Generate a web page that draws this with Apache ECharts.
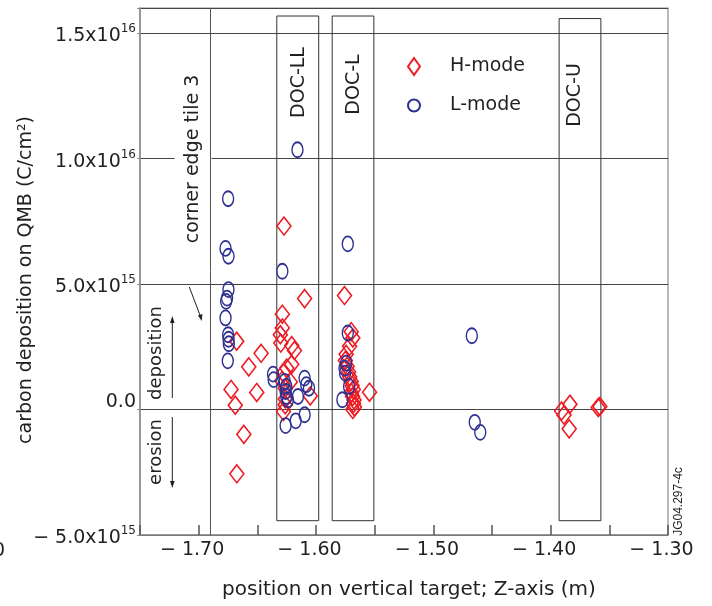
<!DOCTYPE html>
<html>
<head>
<meta charset="utf-8">
<script src="https://cdn.jsdelivr.net/npm/echarts@6/dist/echarts.min.js"></script>
<style>
  html, body { margin: 0; padding: 0; background: #fff; }
  #chart { width: 712px; height: 606px; }
</style>
</head>
<body>
<div id="chart"></div>
<script>
  // H-mode points: Z position (m) and carbon deposition (x1e15 C/cm2)
  var hModeZ = [
    -1.6676, -1.6468, -1.6573, -1.6724, -1.6505, -1.6688, -1.6615, -1.6675,
    -1.6273, -1.6097, -1.6287, -1.6287, -1.6304, -1.6300, -1.6207, -1.6184, -1.6207,
    -1.6249, -1.6277, -1.6291, -1.6219, -1.6262, -1.6049, -1.6263, -1.6277, -1.6262,
    -1.5757, -1.5700, -1.5686, -1.5714, -1.5743, -1.5750, -1.5735, -1.5722, -1.5712,
    -1.5700, -1.5692, -1.5682, -1.5698, -1.5688, -1.5676, -1.5680, -1.5672, -1.5686, -1.5544,
    -1.3907, -1.3887, -1.3836, -1.3842, -1.3595, -1.3581
  ]
  var hModeC = [
    2.72, 2.24, 1.70, 0.80, 0.68, 0.17, -0.99, -2.56,
    7.31, 4.42, 3.80, 3.25, 2.98, 2.65, 2.55, 2.35, 1.80,
    1.65, 1.45, 1.15, 1.10, 0.85, 0.54, 0.19, -0.08, 0.42,
    4.54, 3.10, 2.85, 2.52, 2.20, 1.95, 1.72, 1.50, 1.30,
    1.12, 0.95, 0.80, 0.66, 0.52, 0.38, 0.24, 0.10, 0.00, 0.69,
    -0.06, -0.22, 0.21, -0.77, 0.08, 0.12
  ]
  // L-mode points
  var lModeZ = [
    -1.6749, -1.6771, -1.6746, -1.6746, -1.6758, -1.6766, -1.6771, -1.6749, -1.6745, -1.6743, -1.6752,
    -1.6158, -1.6287, -1.6366, -1.6361, -1.6267, -1.6253, -1.6259, -1.6253, -1.6239, -1.6154,
    -1.6097, -1.6083, -1.6060, -1.6097, -1.6173, -1.6259,
    -1.5729, -1.5729, -1.5743, -1.5757, -1.5752, -1.5718, -1.5775,
    -1.4672, -1.4647, -1.4600
  ]
  var lModeC = [
    8.40, 6.42, 6.11, 4.78, 4.44, 4.31, 3.65, 2.98, 2.80, 2.62, 1.94,
    10.35, 5.51, 1.41, 1.19, 1.12, 0.92, 0.72, 0.52, 0.39, 0.52,
    1.25, 0.99, 0.85, -0.21, -0.45, -0.64,
    6.60, 3.05, 1.85, 1.65, 1.45, 0.92, 0.39,
    2.94, -0.51, -0.91
  ]
  var UNIT = 1e15

  // divertor regions drawn as boxes: [left Z, right Z, top (x1e15)]
  var docNames = ['DOC-LL', 'DOC-L', 'DOC-U']
  var docLeft = [-1.6334, -1.5862, -1.3928]
  var docRight = [-1.5977, -1.5507, -1.3572]
  var docTop = [15.68, 15.68, 15.58]
  var docBottom = -4.43
  var cornerEdgeZ = -1.6927

  // tick labels
  var xTickValues = [-1.70, -1.60, -1.50, -1.40, -1.30]
  var xTickLabels = ['\u2212 1.70', '\u2212 1.60', '\u2212 1.50', '\u2212 1.40', '\u2212 1.30']
  var yTickValues = [-5e15, 0, 5e15, 1e16, 1.5e16]
  var yTickMantissa = ['\u2212 5.0x10', '0.0', '5.0x10', '1.0x10', '1.5x10']
  var yTickExponent = ['15', '', '15', '16', '16']

  var FONT = 'DejaVu Sans'
  var TXT = '#231f20'
  var RED = '#ed1c24'
  var BLUE = '#2e3192'

  function toPoints (zs, cs) {
    var out = []
    for (var i = 0; i < zs.length; i++) {
      out.push([zs[i], cs[i] * UNIT])
    }
    return out
  }

  var docAreas = []
  for (var i = 0; i < docNames.length; i++) {
    docAreas.push([
      { name: docNames[i], coord: [docLeft[i], docTop[i] * UNIT] },
      { coord: [docRight[i], docBottom * UNIT] }
    ])
  }

  var chart = echarts.init(document.getElementById('chart'))

  var option = {
    animation: false,
    backgroundColor: '#fff',
    textStyle: { fontFamily: FONT, color: TXT },
    grid: {
      left: 140, right: 44, top: 8, bottom: 71,
      show: true, borderColor: '#8c8c8c', borderWidth: 1.2
    },
    legend: {
      data: ['H-mode', 'L-mode'],
      orient: 'vertical',
      left: 402, top: 52,
      itemWidth: 12, itemHeight: 17, itemGap: 20,
      symbolKeepAspect: false,
      selectedMode: false,
      textStyle: { fontFamily: FONT, fontSize: 19, color: TXT, padding: [4, 0, 0, 25] }
    },
    xAxis: {
      type: 'value',
      min: -1.75, max: -1.30, interval: 0.05,
      name: 'position on vertical target; Z-axis (m)',
      nameLocation: 'middle', nameGap: 45, nameMoveOverlap: false,
      nameTextStyle: { fontFamily: FONT, fontSize: 20, color: TXT, padding: [0, 0, 0, 10] },
      axisLine: { onZero: false, lineStyle: { color: '#8c8c8c', width: 1.5 } },
      axisTick: { show: true, inside: true, length: 10, lineStyle: { color: '#555', width: 1.5 } },
      splitLine: { show: false },
      axisLabel: {
        margin: 6, fontFamily: FONT, fontSize: 19, color: TXT, padding: [0, 13, 0, 0],
        formatter: function (v) {
          for (var i = 0; i < xTickValues.length; i++) {
            if (Math.round(v * 100) === Math.round(xTickValues[i] * 100)) return xTickLabels[i]
          }
          return ''
        }
      }
    },
    yAxis: {
      type: 'value',
      min: -5e15, max: 1.6e16, interval: 5e15,
      name: 'carbon deposition on QMB (C/cm\u00b2)',
      nameLocation: 'middle', nameGap: 104, nameRotate: 90, nameMoveOverlap: false,
      nameTextStyle: { fontFamily: FONT, fontSize: 19, color: TXT, padding: [0, 17, 0, 0] },
      axisLine: { onZero: false, lineStyle: { color: '#8c8c8c', width: 1.5 } },
      axisTick: { length: 3, lineStyle: { color: '#8c8c8c' } },
      splitLine: { show: true, lineStyle: { color: '#444', width: 1 } },
      axisLabel: {
        margin: 4,
        formatter: function (v) {
          for (var i = 0; i < yTickValues.length; i++) {
            if (Math.abs(v - yTickValues[i]) < 1e12) {
              if (yTickExponent[i] === '') return '{z|' + yTickMantissa[i] + '}'
              return '{m|' + yTickMantissa[i] + '}{s|' + yTickExponent[i] + '}'
            }
          }
          return ''
        },
        rich: {
          m: { fontFamily: FONT, fontSize: 19, color: TXT, lineHeight: 20, padding: [6, 0, 0, 0] },
          s: { fontFamily: FONT, fontSize: 12, color: TXT, lineHeight: 15, verticalAlign: 'top' },
          z: { fontFamily: FONT, fontSize: 19, color: TXT, lineHeight: 20, padding: [0, 0, 14, 0] }
        }
      }
    },
    graphic: [
      { type: 'text', x: 299, y: 82.5, rotation: Math.PI / 2, z: 1,
        style: { text: 'DOC-LL', font: '19px "DejaVu Sans"', fill: TXT, align: 'center', verticalAlign: 'middle' } },
      { type: 'text', x: 354.4, y: 84.5, rotation: Math.PI / 2, z: 1,
        style: { text: 'DOC-L', font: '19px "DejaVu Sans"', fill: TXT, align: 'center', verticalAlign: 'middle' } },
      { type: 'text', x: 574.7, y: 95, rotation: Math.PI / 2, z: 1,
        style: { text: 'DOC-U', font: '19px "DejaVu Sans"', fill: TXT, align: 'center', verticalAlign: 'middle' } },
      { type: 'text', x: 193, y: 159, rotation: Math.PI / 2, z: 1,
        style: { text: 'corner edge tile 3', font: '19px "DejaVu Sans"', fill: TXT, align: 'center', verticalAlign: 'middle',
          backgroundColor: '#fff', padding: [9, 2, 9, 2] } },
      { type: 'text', x: 156.5, y: 353, rotation: Math.PI / 2, z: 1,
        style: { text: 'deposition', font: '18px "DejaVu Sans"', fill: TXT, align: 'center', verticalAlign: 'middle' } },
      { type: 'text', x: 156.5, y: 452, rotation: Math.PI / 2, z: 1,
        style: { text: 'erosion', font: '18px "DejaVu Sans"', fill: TXT, align: 'center', verticalAlign: 'middle' } },
      // up / down arrows
      { type: 'line', z: 1, shape: { x1: 172.3, y1: 398, x2: 172.3, y2: 322 }, style: { stroke: TXT, lineWidth: 1 } },
      { type: 'polygon', z: 1, shape: { points: [[172.3, 316], [170, 323], [174.6, 323]] }, style: { fill: TXT } },
      { type: 'line', z: 1, shape: { x1: 172.3, y1: 417, x2: 172.3, y2: 482 }, style: { stroke: TXT, lineWidth: 1 } },
      { type: 'polygon', z: 1, shape: { points: [[172.3, 488], [170, 481], [174.6, 481]] }, style: { fill: TXT } },
      // pointer to corner edge tile
      { type: 'line', z: 1, shape: { x1: 189.3, y1: 287, x2: 200.3, y2: 316 }, style: { stroke: TXT, lineWidth: 1 } },
      { type: 'polygon', z: 1, shape: { points: [[201.7, 321], [198, 315.5], [202.4, 314]] }, style: { fill: TXT } },
      { type: 'text', x: 678.5, y: 501.5, rotation: Math.PI / 2, z: 1,
        style: { text: 'JG04.297-4c', font: '12px "Liberation Sans"', fill: TXT, align: 'center', verticalAlign: 'middle' } },
      { type: 'text', x: 5, y: 551, z: 1,
        style: { text: '0', font: '19px "DejaVu Sans"', fill: TXT, align: 'right', verticalAlign: 'middle' } }
    ],
    series: [
      {
        name: 'regions',
        type: 'scatter',
        data: [],
        silent: true,
        z: 4,
        markArea: {
          silent: true,
          label: { show: false },
          itemStyle: { color: 'rgba(0,0,0,0)', borderColor: '#333', borderWidth: 1 },
          data: docAreas
        },
        markLine: {
          silent: true,
          symbol: 'none',
          label: { show: false },
          lineStyle: { color: '#555', width: 1, type: 'solid' },
          data: [{ xAxis: cornerEdgeZ }]
        }
      },
      {
        name: 'H-mode',
        type: 'scatter',
        symbol: 'diamond',
        symbolSize: [14, 18],
        z: 5,
        itemStyle: { color: 'rgba(0,0,0,0)', borderColor: RED, borderWidth: 1.6, opacity: 1 },
        data: toPoints(hModeZ, hModeC)
      },
      {
        name: 'L-mode',
        type: 'scatter',
        symbol: 'circle',
        symbolSize: [11, 15],
        z: 6,
        itemStyle: { color: 'rgba(0,0,0,0)', borderColor: BLUE, borderWidth: 1.6, opacity: 1 },
        data: toPoints(lModeZ, lModeC)
      }
    ]
  }

  chart.setOption(option)
</script>
</body>
</html>
